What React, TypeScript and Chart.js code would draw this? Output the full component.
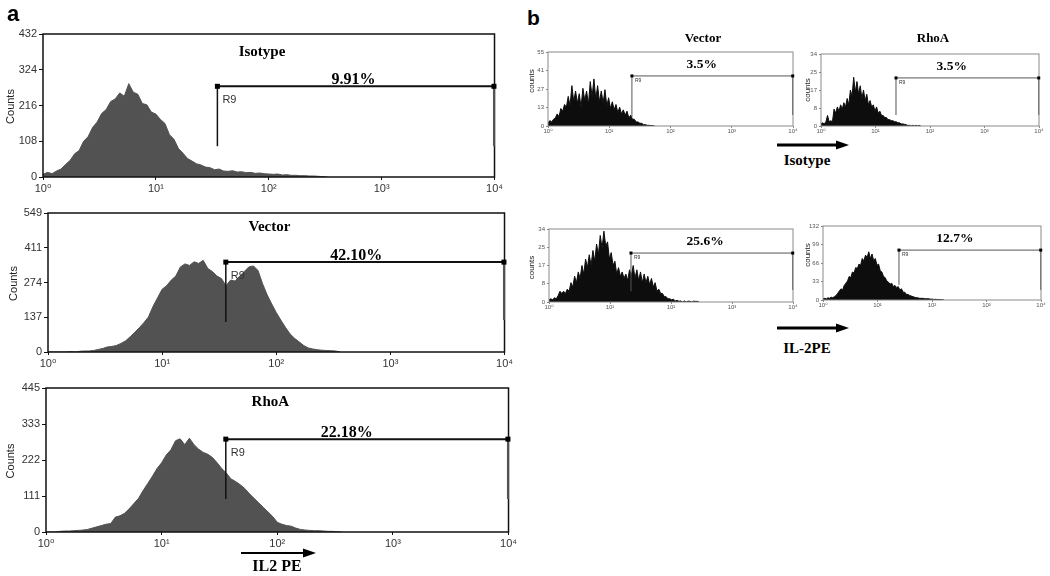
import React, { useEffect, useRef } from "react";
import { Chart, registerables } from "chart.js";
Chart.register(...registerables);

// ---------- data ----------
const X_TICK_LABELS = ["10⁰", "10¹", "10²", "10³", "10⁴"];

// panel a: bins every 0.04 decade starting at 10^0
const A_STEP = 0.04;
const A_ISOTYPE_COUNTS = [8, 14, 10, 18, 24, 38, 50, 70, 80, 108, 122, 150, 166, 192, 204, 228, 236, 254, 244, 282, 256, 250, 222, 218, 196, 190, 174, 162, 128, 114, 86, 72, 56, 48, 40, 36, 30, 28, 22, 24, 18, 17, 19, 15, 16, 13, 14, 11, 12, 10, 9, 8, 9, 6, 7, 5, 5, 4, 4, 3, 3, 2, 1, 0];
const A_VECTOR_COUNTS = [0, 0, 0, 0, 0, 2, 0, 3, 4, 4, 6, 10, 14, 20, 22, 26, 34, 44, 60, 78, 96, 116, 138, 180, 214, 248, 262, 284, 300, 336, 348, 342, 356, 350, 362, 330, 318, 300, 290, 262, 284, 280, 300, 318, 336, 340, 322, 270, 226, 190, 156, 126, 98, 72, 54, 40, 26, 16, 12, 9, 7, 6, 5, 4, 0];
const A_RHOA_COUNTS = [0, 0, 0, 2, 3, 3, 4, 5, 6, 8, 12, 16, 20, 24, 26, 46, 50, 58, 72, 88, 104, 128, 150, 172, 196, 214, 238, 254, 282, 288, 270, 290, 270, 256, 246, 240, 230, 214, 196, 182, 164, 156, 146, 134, 118, 104, 90, 76, 62, 48, 30, 24, 20, 18, 12, 8, 6, 5, 4, 4, 3, 2, 2, 1, 0];

const A_ISOTYPE_Y_TICKS = ["0", "108", "216", "324", "432"];
const A_VECTOR_Y_TICKS = ["0", "137", "274", "411", "549"];
const A_RHOA_Y_TICKS = ["0", "111", "222", "333", "445"];

// panel b: bins every 0.03 decade starting at 10^0
const B_STEP = 0.03;
const B_ISO_VECTOR_COUNTS = [2, 4, 3, 5, 6, 9, 7, 13, 11, 16, 14, 22, 15, 30, 18, 26, 17, 24, 14, 28, 19, 26, 16, 33, 22, 35, 20, 30, 18, 26, 17, 27, 15, 21, 13, 18, 12, 16, 10, 14, 9, 12, 8, 11, 6, 8, 5, 5, 3, 3, 2, 2, 1, 1, 0.5, 0.5, 0.3, 0.3, 0];
const B_ISO_RHOA_COUNTS = [1, 1.5, 1, 2, 5, 2, 2.5, 2, 8, 6, 9, 7, 10, 8, 11, 9, 13, 10, 17, 14, 23, 16, 21, 15, 19, 13, 17, 12, 15, 10, 12, 9, 10, 7, 9, 6, 7, 5, 5, 4, 4, 3, 3, 2.5, 2.5, 2, 2, 1.5, 1.5, 1, 1, 0.8, 0.6, 0.3, 0.3, 0, 0.3, 0, 0.3, 0, 0.3, 0];
const B_IL2_VECTOR_COUNTS = [1, 1.5, 1, 2, 1.5, 3, 5, 4, 5, 4, 6, 5, 9, 7, 12, 9, 14, 11, 17, 13, 20, 16, 22, 17, 24, 19, 27, 22, 31, 25, 33, 26, 28, 20, 23, 17, 19, 13, 16, 12, 14, 11, 13, 10, 15, 12, 17, 11, 15, 10, 14, 9, 13, 9, 12, 8, 11, 7, 9, 5, 6, 4, 4, 2.5, 2.5, 1.5, 1.5, 1, 1.3, 0.5, 0.8, 0.3, 0.5, 0, 0.5, 0, 0.4, 0.3, 0, 0.4, 0.3, 0.3, 0];
const B_IL2_RHOA_COUNTS = [2, 3, 2, 4, 3, 5, 4, 6, 8, 12, 16, 20, 18, 26, 30, 34, 42, 40, 50, 48, 58, 56, 64, 62, 74, 70, 80, 76, 86, 74, 82, 70, 74, 62, 64, 52, 50, 42, 40, 34, 32, 28, 30, 24, 26, 22, 24, 18, 20, 14, 14, 10, 10, 8, 7, 6, 5, 4, 4, 3, 3, 3, 2.5, 2, 2.5, 2, 1.5, 1.5, 1, 1.2, 0.8, 1, 0.6, 0.5, 0];

const B_ISO_VECTOR_Y_TICKS = ["0", "13", "27", "41", "55"];
const B_ISO_RHOA_Y_TICKS = ["0", "8", "17", "25", "34"];
const B_IL2_VECTOR_Y_TICKS = ["0", "8", "17", "25", "34"];
const B_IL2_RHOA_Y_TICKS = ["0", "33", "66", "99", "132"];

const PERCENTS = ["9.91%", "42.10%", "22.18%", "3.5%", "3.5%", "25.6%", "12.7%"];
const GATE_LEFT = [1.545, 1.558, 1.555, 1.37, 1.376, 1.344, 1.394];
const GATE_LEVEL = [274, 355, 287, 37.2, 22.7, 22.8, 89];

// ---------- panel ----------
type Cfg = {
  counts: number[]; step: number; yMax: number; yLabels: string[];
  left: number; top: number; yW: number; padTop: number; padRight: number; xH: number;
  plotW: number; plotH: number;
  fill: string; frame: string; frameW: number;
  tickSize: number; tickColor: string; yTickLen: number; xTickLen: number; yPad: number; xPad: number;
  yTitle: string; yTitleX: number; yTitleDy: number; yTitleSize: number;
  title?: string; titleX?: number; titleDy?: number; titleSize?: number;
  gateX: number; gateY: number; gateLB: number; gateRB: number; gateW: number; gateVW: number; gateRW: number;
  gateColor: string; gateRColor: string; marker: number;
  pct: string; pctX: number; pctSize: number; pctUp: number;
  r9Size: number; r9Dx: number; r9Dy: number;
};

function HistPanel({ c }: { c: Cfg }) {
  const ref = useRef<HTMLCanvasElement>(null);
  const width = c.yW + c.plotW + c.padRight;
  const height = c.padTop + c.plotH + c.xH;
  useEffect(() => {
    const pts = c.counts.map((v, i) => ({ x: Math.round(i * c.step * 1000) / 1000, y: v }));
    const annot = {
      id: "annot",
      afterDraw(chart: any) {
        const ctx = chart.ctx;
        const ca = chart.chartArea;
        const xs = chart.scales.x;
        const ys = chart.scales.y;
        ctx.save();
        // frame
        ctx.strokeStyle = c.frame;
        ctx.lineWidth = c.frameW;
        ctx.strokeRect(ca.left, ca.top, ca.right - ca.left, ca.bottom - ca.top);
        // gate
        const gx1 = xs.getPixelForValue(c.gateX);
        const gx2 = xs.getPixelForValue(3.995);
        const gy = ys.getPixelForValue(c.gateY);
        ctx.strokeStyle = c.gateColor;
        ctx.lineWidth = c.gateW;
        ctx.beginPath();
        ctx.moveTo(gx1, gy);
        ctx.lineTo(gx2, gy);
        ctx.stroke();
        ctx.lineWidth = c.gateVW;
        ctx.beginPath();
        ctx.moveTo(gx1, gy);
        ctx.lineTo(gx1, ys.getPixelForValue(c.gateLB));
        ctx.stroke();
        ctx.strokeStyle = c.gateRColor;
        ctx.lineWidth = c.gateRW;
        ctx.beginPath();
        ctx.moveTo(gx2, gy);
        ctx.lineTo(gx2, ys.getPixelForValue(c.gateRB));
        ctx.stroke();
        ctx.fillStyle = "#000";
        ctx.fillRect(gx1 - c.marker / 2, gy - c.marker / 2, c.marker, c.marker);
        ctx.fillRect(gx2 - c.marker / 2, gy - c.marker / 2, c.marker, c.marker);
        // R9
        ctx.fillStyle = "#333";
        ctx.font = `${c.r9Size}px "Liberation Sans", Arial, sans-serif`;
        ctx.textAlign = "left";
        ctx.textBaseline = "middle";
        ctx.fillText("R9", gx1 + c.r9Dx, gy + c.r9Dy);
        // percent
        ctx.fillStyle = "#000";
        ctx.font = `bold ${c.pctSize}px "Liberation Serif", "Times New Roman", serif`;
        ctx.textAlign = "center";
        ctx.textBaseline = "alphabetic";
        ctx.fillText(c.pct, xs.getPixelForValue(c.pctX), gy - c.pctUp);
        // title
        if (c.title) {
          ctx.font = `bold ${c.titleSize}px "Liberation Serif", "Times New Roman", serif`;
          ctx.textBaseline = "middle";
          ctx.fillText(c.title, xs.getPixelForValue(c.titleX!), ca.top + c.titleDy!);
        }
        // y title
        ctx.fillStyle = "#222";
        ctx.font = `${c.yTitleSize}px "Liberation Sans", Arial, sans-serif`;
        ctx.translate(c.yTitleX, (ca.top + ca.bottom) / 2 + c.yTitleDy);
        ctx.rotate(-Math.PI / 2);
        ctx.textAlign = "center";
        ctx.textBaseline = "middle";
        ctx.fillText(c.yTitle, 0, 0);
        ctx.restore();
      },
    };
    const chart = new Chart(ref.current as HTMLCanvasElement, {
      type: "line",
      data: {
        datasets: [
          {
            data: pts,
            fill: "origin",
            backgroundColor: c.fill,
            borderColor: c.fill,
            borderWidth: 1,
            pointRadius: 0,
            tension: 0,
          },
        ],
      },
      options: {
        animation: false,
        responsive: false,
        events: [],
        layout: { padding: { top: c.padTop, right: c.padRight, left: 0, bottom: 0 } },
        plugins: { legend: { display: false }, tooltip: { enabled: false }, title: { display: false } },
        scales: {
          x: {
            type: "linear",
            min: 0,
            max: 4,
            afterBuildTicks: (s: any) => {
              s.ticks = [0, 1, 2, 3, 4].map((v) => ({ value: v }));
            },
            afterFit: (s: any) => {
              s.height = c.xH;
            },
            ticks: {
              autoSkip: false,
              maxRotation: 0,
              padding: c.xPad,
              color: c.tickColor,
              font: { family: '"Liberation Sans", "DejaVu Sans", Arial, sans-serif', size: c.tickSize },
              callback: (v: any) => X_TICK_LABELS[Math.round(Number(v))],
            },
            grid: { drawOnChartArea: false, tickLength: c.xTickLen, color: c.frame },
            border: { display: false },
          },
          y: {
            type: "linear",
            min: 0,
            max: c.yMax,
            afterBuildTicks: (s: any) => {
              s.ticks = [0, 1, 2, 3, 4].map((i) => ({ value: (c.yMax * i) / 4 }));
            },
            afterFit: (s: any) => {
              s.width = c.yW;
            },
            ticks: {
              autoSkip: false,
              padding: c.yPad,
              color: c.tickColor,
              font: { family: '"Liberation Sans", "DejaVu Sans", Arial, sans-serif', size: c.tickSize },
              callback: (_v: any, i: number) => c.yLabels[i],
            },
            grid: { drawOnChartArea: false, tickLength: c.yTickLen, color: c.frame },
            border: { display: false },
          },
        },
      } as any,
      plugins: [annot],
    });
    return () => chart.destroy();
  }, []);
  return (
    <canvas
      ref={ref}
      width={width}
      height={height}
      style={{ position: "absolute", left: c.left, top: c.top, width, height }}
    />
  );
}

const aBase = {
  step: A_STEP, padTop: 10, padRight: 10, xH: 20,
  fill: "#525252", frame: "#111", frameW: 1.5,
  tickSize: 11, tickColor: "#333", yTickLen: 4, xTickLen: 3, yPad: 2, xPad: 2,
  yTitle: "Counts", yTitleSize: 11, yTitleDy: 1,
  titleSize: 15, titleX: 1.94,
  gateW: 2, gateVW: 1.5, gateRW: 2, gateColor: "#111", gateRColor: "#555", marker: 5,
  pctSize: 16, pctUp: 2, r9Size: 11, r9Dx: 5, r9Dy: 14,
};
const bBase = {
  step: B_STEP, padTop: 8, padRight: 6, xH: 12,
  fill: "#0d0d0d", frame: "#8a8a8a", frameW: 1,
  tickSize: 6, tickColor: "#555", yTickLen: 2, xTickLen: 2, yPad: 2, xPad: 0,
  yTitle: "counts", yTitleSize: 8,
  gateW: 1, gateVW: 1, gateRW: 1, gateColor: "#555", gateRColor: "#666", marker: 3,
  pctSize: 13.5, pctUp: 8, r9Size: 5, r9Dx: 3, r9Dy: 5,
};

const PANELS: Cfg[] = [
  { ...aBase, counts: A_ISOTYPE_COUNTS, yMax: 432, yLabels: A_ISOTYPE_Y_TICKS, left: 0, top: 24, yW: 43, plotW: 452, plotH: 143,
    yTitleX: 11, title: "Isotype", titleDy: 18, gateX: GATE_LEFT[0], gateY: GATE_LEVEL[0], gateLB: 93, gateRB: 93, pct: PERCENTS[0], pctX: 2.75 } as Cfg,
  { ...aBase, counts: A_VECTOR_COUNTS, yMax: 549, yLabels: A_VECTOR_Y_TICKS, left: 0, top: 203, yW: 48, plotW: 457, plotH: 139,
    yTitleX: 14, title: "Vector", titleDy: 14, gateX: GATE_LEFT[1], gateY: GATE_LEVEL[1], gateLB: 118, gateRB: 126, pct: PERCENTS[1], pctX: 2.7 } as Cfg,
  { ...aBase, counts: A_RHOA_COUNTS, yMax: 445, yLabels: A_RHOA_Y_TICKS, left: 0, top: 378, yW: 46, plotW: 463, plotH: 144,
    yTitleX: 11, title: "RhoA", titleDy: 14, gateX: GATE_LEFT[2], gateY: GATE_LEVEL[2], gateLB: 102, gateRB: 102, pct: PERCENTS[2], pctX: 2.6 } as Cfg,
  { ...bBase, counts: B_ISO_VECTOR_COUNTS, yMax: 55, yLabels: B_ISO_VECTOR_Y_TICKS, left: 520, top: 44, yW: 28, plotW: 245, plotH: 74,
    yTitleX: 12, yTitleDy: -8, gateX: GATE_LEFT[3], gateY: GATE_LEVEL[3], gateLB: 6.7, gateRB: 8.2, pct: PERCENTS[3], pctX: 2.51 } as Cfg,
  { ...bBase, counts: B_ISO_RHOA_COUNTS, yMax: 34, yLabels: B_ISO_RHOA_Y_TICKS, left: 800, top: 46, yW: 21, plotW: 218, plotH: 72,
    yTitleX: 8, yTitleDy: 0, gateX: GATE_LEFT[4], gateY: GATE_LEVEL[4], gateLB: 5.2, gateRB: 5.2, pct: PERCENTS[4], pctX: 2.4 } as Cfg,
  { ...bBase, counts: B_IL2_VECTOR_COUNTS, yMax: 34, yLabels: B_IL2_VECTOR_Y_TICKS, left: 520, top: 221, yW: 29, plotW: 244, plotH: 73,
    yTitleX: 12, yTitleDy: 2, gateX: GATE_LEFT[5], gateY: GATE_LEVEL[5], gateLB: 5, gateRB: 5.6, pct: PERCENTS[5], pctX: 2.56 } as Cfg,
  { ...bBase, counts: B_IL2_RHOA_COUNTS, yMax: 132, yLabels: B_IL2_RHOA_Y_TICKS, left: 800, top: 218, yW: 23, plotW: 218, plotH: 74,
    yTitleX: 8, yTitleDy: -8, gateX: GATE_LEFT[6], gateY: GATE_LEVEL[6], gateLB: 27, gateRB: 18, pct: PERCENTS[6], pctX: 2.42 } as Cfg,
];

function Label({ x, y, text, size, serif = true, bold = true }: any) {
  return (
    <div
      style={{
        position: "absolute",
        left: x,
        top: y,
        transform: "translate(-50%, -50%)",
        fontFamily: serif ? '"Liberation Serif", "Times New Roman", serif' : '"Liberation Sans", Arial, sans-serif',
        fontWeight: bold ? "bold" : "normal",
        fontSize: size,
        lineHeight: 1,
        whiteSpace: "nowrap",
        color: "#000",
      }}
    >
      {text}
    </div>
  );
}

function Arrow({ x1, x2, y, w, head }: any) {
  return (
    <svg style={{ position: "absolute", left: 0, top: 0, overflow: "visible" }} width={1} height={1}>
      <line x1={x1} y1={y} x2={x2 - head} y2={y} stroke="#000" strokeWidth={w} />
      <polygon points={`${x2 - head},${y - 4.5} ${x2},${y} ${x2 - head},${y + 4.5}`} fill="#000" />
    </svg>
  );
}

export default function App() {
  return (
    <div style={{ position: "absolute", left: 0, top: 0, width: 1050, height: 576, background: "#fff", overflow: "hidden" }}>
      {PANELS.map((p, i) => (
        <HistPanel key={i} c={p} />
      ))}
      <div style={{ position: "absolute", left: 7, top: 3, fontFamily: '"Liberation Sans", Arial, sans-serif', fontWeight: "bold", fontSize: 22, lineHeight: 1 }}>a</div>
      <div style={{ position: "absolute", left: 527, top: 7, fontFamily: '"Liberation Sans", Arial, sans-serif', fontWeight: "bold", fontSize: 21, lineHeight: 1 }}>b</div>
      <Label x={703} y={37} text="Vector" size={13} />
      <Label x={933} y={37} text="RhoA" size={13} />
      <Arrow x1={241} x2={316} y={553} w={2} head={13} />
      <Label x={277} y={566} text="IL2 PE" size={16} />
      <Arrow x1={777} x2={849} y={145} w={3} head={13} />
      <Label x={807} y={160} text="Isotype" size={15} />
      <Arrow x1={777} x2={849} y={328} w={3} head={13} />
      <Label x={807} y={348} text="IL-2PE" size={15} />
    </div>
  );
}
